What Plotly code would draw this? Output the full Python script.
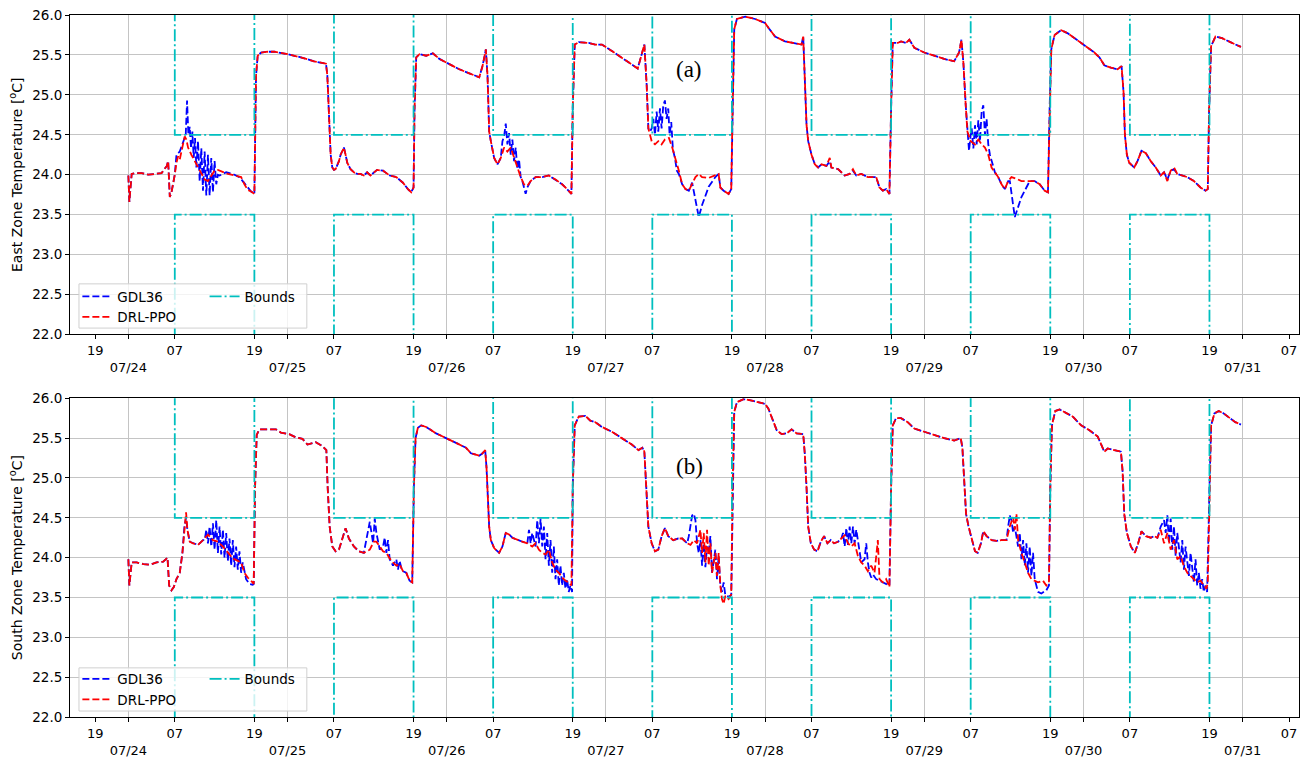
import pandas as pd
import plotly.graph_objects as go

base = pd.Timestamp("2019-07-24 00:00")

# (hours since 07/24 00:00, temperature degC)
east_drlppo = [
    (0.0, 23.99), (0.15, 23.66), (0.5, 24.01), (1.0, 24.02), (2.0, 24.02), (3.0, 24.00), (4.0, 24.01), (5.0, 24.02),
    (5.8, 24.11), (6.0, 24.17), (6.25, 23.72), (6.5, 23.78), (7.0, 24.00), (7.25, 24.15), (7.5, 24.23), (7.75, 24.19),
    (8.0, 24.29), (8.25, 24.38), (8.5, 24.48), (8.75, 24.44), (9.0, 24.34), (9.5, 24.25), (10.0, 24.17), (10.5, 24.09),
    (11.0, 24.01), (11.5, 23.94), (12.0, 23.92), (12.5, 23.99), (13.0, 24.05), (13.5, 24.06), (14.0, 24.04), (15.0, 24.01),
    (16.0, 23.99), (17.0, 23.97), (17.5, 23.88), (18.0, 23.81), (18.5, 23.79), (19.0, 23.76),
    (19.25, 25.24), (19.5, 25.49), (20.0, 25.53), (21.0, 25.54), (22.0, 25.54), (24.0, 25.51), (26.0, 25.47), (28.0, 25.42),
    (29.8, 25.39), (30.0, 25.24), (30.25, 24.75), (30.5, 24.25), (30.75, 24.09), (31.0, 24.06), (31.25, 24.07), (31.5, 24.11),
    (31.75, 24.17), (32.0, 24.25), (32.5, 24.34), (32.75, 24.25), (33.0, 24.15), (33.5, 24.07), (34.0, 24.03), (34.5, 24.01),
    (35.0, 24.01), (35.5, 23.99), (36.0, 24.03), (36.5, 23.99), (37.0, 24.03), (37.5, 24.06), (38.4, 24.05), (39.4, 23.99),
    (40.4, 23.97), (41.4, 23.90), (42.15, 23.82), (42.65, 23.78), (43.0, 23.84),
    (43.15, 24.83), (43.4, 25.47), (43.9, 25.51), (44.9, 25.49), (45.9, 25.52), (46.9, 25.45), (48.4, 25.38), (49.9, 25.32),
    (51.4, 25.27), (52.9, 25.22), (53.4, 25.36), (53.9, 25.57), (54.15, 25.24), (54.4, 24.54), (54.65, 24.42), (55.15, 24.21),
    (55.65, 24.13), (56.15, 24.21), (56.65, 24.34), (57.15, 24.29), (57.65, 24.34), (58.15, 24.21), (58.65, 24.09), (59.15, 23.97),
    (59.65, 23.88), (60.15, 23.86), (60.65, 23.92), (61.4, 23.97), (62.4, 23.97), (63.4, 23.99), (64.4, 23.94), (65.4, 23.88),
    (66.15, 23.82), (66.8, 23.76),
    (67.0, 24.83), (67.3, 25.63), (67.9, 25.66), (69.4, 25.65), (70.4, 25.63), (71.4, 25.63), (72.9, 25.55), (74.4, 25.47),
    (75.9, 25.38), (76.8, 25.33), (77.4, 25.53), (77.8, 25.63), (78.15, 25.12), (78.4, 24.58), (78.9, 24.42), (79.4, 24.38),
    (79.9, 24.42), (80.4, 24.38), (80.9, 24.44), (81.5, 24.46), (82.0, 24.34), (82.5, 24.21), (83.0, 24.05), (83.5, 23.88),
    (84.0, 23.82), (84.5, 23.80), (85.0, 23.88), (85.5, 23.97), (86.0, 24.01), (86.5, 23.97), (87.5, 23.96), (88.5, 23.99),
    (89.0, 24.01), (89.25, 23.84), (89.75, 23.80), (90.5, 23.76), (90.9, 23.82),
    (91.1, 24.83), (91.35, 25.82), (91.75, 25.95), (93.0, 25.98), (94.5, 25.95), (96.0, 25.90), (96.5, 25.84), (97.5, 25.73),
    (99.0, 25.67), (100.5, 25.65), (101.5, 25.63), (101.75, 25.73), (102.0, 25.24), (102.25, 24.62), (102.5, 24.42), (103.0, 24.25),
    (103.5, 24.13), (104.0, 24.09), (104.5, 24.13), (105.25, 24.11), (105.75, 24.21), (106.0, 24.09), (107.0, 24.07), (108.0, 23.99),
    (108.75, 24.01), (109.25, 24.07), (109.75, 23.99), (110.5, 24.01), (111.5, 23.97), (112.75, 23.97), (113.25, 23.84), (113.75, 23.80),
    (114.25, 23.82), (114.75, 23.76),
    (115.0, 24.83), (115.25, 25.65), (116.0, 25.65), (116.5, 25.67), (117.25, 25.65), (117.75, 25.69), (118.5, 25.59), (120.0, 25.53),
    (121.5, 25.49), (123.0, 25.45), (124.5, 25.42), (125.25, 25.53), (125.6, 25.69), (125.9, 25.40), (126.25, 24.87), (126.5, 24.54),
    (127.0, 24.42), (127.65, 24.38), (128.15, 24.44), (128.65, 24.38), (129.15, 24.34), (129.65, 24.25), (130.15, 24.09), (130.65, 24.03),
    (131.15, 23.97), (131.65, 23.88), (132.15, 23.82), (132.65, 23.92), (133.15, 23.97), (133.9, 23.95), (134.65, 23.92), (135.65, 23.92),
    (136.65, 23.92), (137.4, 23.88), (138.15, 23.80), (138.65, 23.78),
    (138.9, 24.83), (139.15, 25.57), (139.65, 25.75), (140.65, 25.81), (141.65, 25.77), (142.65, 25.71), (144.15, 25.61), (145.65, 25.53),
    (146.4, 25.47), (147.15, 25.37), (148.15, 25.34), (149.15, 25.32), (149.75, 25.36), (150.05, 25.03), (150.25, 24.50), (150.55, 24.25),
    (150.9, 24.15), (151.65, 24.09), (152.15, 24.17), (152.75, 24.30), (153.4, 24.27), (154.15, 24.17), (154.9, 24.09), (155.65, 23.99),
    (156.15, 24.03), (156.65, 23.92), (157.15, 24.05), (157.65, 24.09), (158.15, 24.01), (158.9, 23.99), (159.65, 23.97), (160.65, 23.92),
    (161.65, 23.84), (162.4, 23.80), (162.75, 23.82),
    (162.95, 24.83), (163.25, 25.61), (163.9, 25.73), (164.9, 25.71), (166.15, 25.66), (167.75, 25.60),
]

east_gdl36 = [
    (0.0, 23.99), (0.15, 23.66), (0.5, 24.01), (1.0, 24.02), (2.0, 24.02), (3.0, 24.00), (4.0, 24.01), (5.0, 24.02),
    (5.8, 24.11), (6.0, 24.17), (6.25, 23.72), (6.5, 23.78), (7.0, 24.00), (7.25, 24.25), (7.75, 24.29), (8.25, 24.42),
    (8.65, 24.50), (8.85, 24.93), (9.05, 24.50), (9.25, 24.60), (9.45, 24.33), (9.65, 24.54), (9.85, 24.21), (10.05, 24.46),
    (10.25, 24.09), (10.5, 24.42), (10.75, 23.92), (11.0, 24.33), (11.25, 23.80), (11.5, 24.29), (11.75, 23.74), (12.0, 24.25),
    (12.25, 23.74), (12.5, 24.21), (12.75, 23.78), (13.0, 24.17), (13.25, 23.88), (13.5, 24.00), (13.75, 23.99), (14.75, 24.03),
    (15.75, 24.01), (16.75, 23.97), (17.25, 23.92), (18.0, 23.84), (18.5, 23.79), (19.0, 23.76),
    (19.25, 25.24), (19.5, 25.49), (20.0, 25.53), (21.0, 25.54), (22.0, 25.54), (24.0, 25.51), (26.0, 25.47), (28.0, 25.42),
    (29.8, 25.39), (30.0, 25.24), (30.25, 24.75), (30.5, 24.25), (30.75, 24.09), (31.0, 24.06), (31.25, 24.07), (31.5, 24.11),
    (31.75, 24.17), (32.0, 24.25), (32.5, 24.34), (32.75, 24.25), (33.0, 24.15), (33.5, 24.07), (34.0, 24.03), (34.5, 24.01),
    (35.0, 24.01), (35.5, 23.99), (36.0, 24.03), (36.5, 23.99), (37.0, 24.03), (37.5, 24.06), (38.4, 24.05), (39.4, 23.99),
    (40.4, 23.97), (41.4, 23.90), (42.15, 23.82), (42.65, 23.78), (43.0, 23.84),
    (43.15, 24.83), (43.4, 25.47), (43.9, 25.51), (44.9, 25.49), (45.9, 25.52), (46.9, 25.45), (48.4, 25.38), (49.9, 25.32),
    (51.4, 25.27), (52.9, 25.22), (53.4, 25.36), (53.9, 25.57), (54.15, 25.24), (54.4, 24.54), (54.65, 24.42), (55.15, 24.21),
    (55.65, 24.13), (56.15, 24.21), (56.4, 24.42), (56.65, 24.48), (56.9, 24.64), (57.15, 24.38), (57.4, 24.52), (57.65, 24.25),
    (57.9, 24.44), (58.15, 24.17), (58.4, 24.34), (58.65, 24.07), (58.9, 24.19), (59.15, 23.97), (59.4, 23.92), (59.65, 23.82),
    (59.9, 23.76), (60.15, 23.84), (60.65, 23.92), (61.4, 23.97), (62.4, 23.97), (63.4, 23.99), (64.4, 23.94), (65.4, 23.88),
    (66.15, 23.82), (66.8, 23.76),
    (67.0, 24.83), (67.3, 25.63), (67.9, 25.66), (69.4, 25.65), (70.4, 25.63), (71.4, 25.63), (72.9, 25.55), (74.4, 25.47),
    (75.9, 25.38), (76.8, 25.33), (77.4, 25.53), (77.8, 25.63), (78.15, 25.12), (78.4, 24.58), (78.65, 24.54), (78.9, 24.58),
    (79.15, 24.70), (79.4, 24.50), (79.65, 24.79), (79.9, 24.54), (80.15, 24.83), (80.4, 24.58), (80.65, 24.87), (80.9, 24.93),
    (81.15, 24.70), (81.4, 24.83), (81.6, 24.50), (81.85, 24.66), (82.1, 24.32), (82.4, 24.21), (82.7, 24.05), (83.0, 24.01),
    (83.5, 23.88), (84.0, 23.82), (84.5, 23.80), (85.0, 23.90), (86.0, 23.47), (86.5, 23.62), (87.5, 23.85), (88.5, 23.97),
    (89.0, 24.01), (89.25, 23.84), (89.75, 23.80), (90.5, 23.76), (90.9, 23.82),
    (91.1, 24.83), (91.35, 25.82), (91.75, 25.95), (93.0, 25.98), (94.5, 25.95), (96.0, 25.90), (96.5, 25.84), (97.5, 25.73),
    (99.0, 25.67), (100.5, 25.65), (101.5, 25.63), (101.75, 25.73), (102.0, 25.24), (102.25, 24.62), (102.5, 24.42), (103.0, 24.25),
    (103.5, 24.13), (104.0, 24.09), (104.5, 24.13), (105.25, 24.11), (105.75, 24.17), (106.0, 24.09), (107.0, 24.07), (108.0, 23.99),
    (108.75, 24.01), (109.25, 24.05), (109.75, 23.99), (110.5, 24.01), (111.5, 23.97), (112.75, 23.97), (113.25, 23.84), (113.75, 23.80),
    (114.25, 23.82), (114.75, 23.76),
    (115.0, 24.83), (115.25, 25.65), (116.0, 25.65), (116.5, 25.67), (117.25, 25.65), (117.75, 25.69), (118.5, 25.59), (120.0, 25.53),
    (121.5, 25.49), (123.0, 25.45), (124.5, 25.42), (125.25, 25.53), (125.6, 25.69), (125.9, 25.40), (126.25, 24.87), (126.5, 24.54),
    (126.75, 24.30), (127.0, 24.50), (127.15, 24.58), (127.4, 24.33), (127.65, 24.62), (127.9, 24.38), (128.15, 24.68), (128.4, 24.42),
    (128.65, 24.79), (128.9, 24.87), (129.15, 24.50), (129.4, 24.70), (129.65, 24.38), (129.9, 24.25), (130.15, 24.17), (130.65, 24.03),
    (131.15, 23.97), (131.65, 23.88), (132.15, 23.82), (132.65, 23.92), (132.9, 23.92), (133.65, 23.47), (134.65, 23.72), (135.9, 23.92),
    (136.65, 23.92), (137.4, 23.88), (138.15, 23.80), (138.65, 23.78),
    (138.9, 24.83), (139.15, 25.57), (139.65, 25.75), (140.65, 25.81), (141.65, 25.77), (142.65, 25.71), (144.15, 25.61), (145.65, 25.53),
    (146.4, 25.47), (147.15, 25.37), (148.15, 25.34), (149.15, 25.32), (149.75, 25.36), (150.05, 25.03), (150.25, 24.50), (150.55, 24.25),
    (150.9, 24.15), (151.65, 24.09), (152.15, 24.17), (152.75, 24.30), (153.4, 24.27), (154.15, 24.17), (154.9, 24.09), (155.65, 23.99),
    (156.15, 24.03), (156.65, 23.94), (157.15, 24.05), (157.65, 24.07), (158.15, 24.01), (158.9, 23.99), (159.65, 23.97), (160.65, 23.92),
    (161.65, 23.84), (162.4, 23.80), (162.75, 23.82),
    (162.95, 24.83), (163.25, 25.61), (163.9, 25.73), (164.9, 25.71), (166.15, 25.66), (167.75, 25.60),
]

south_drlppo = [
    (0.0, 23.98), (0.15, 23.65), (0.5, 23.94), (1.25, 23.94), (2.25, 23.92), (3.25, 23.91), (4.25, 23.94), (5.25, 23.95),
    (5.9, 24.00), (6.15, 23.65), (6.5, 23.59), (6.85, 23.63), (7.25, 23.73), (7.75, 23.81), (8.15, 24.06), (8.45, 24.39),
    (8.7, 24.57), (8.9, 24.35), (9.25, 24.20), (9.75, 24.18), (10.5, 24.16), (11.25, 24.22), (12.0, 24.29), (12.75, 24.22),
    (13.5, 24.20), (14.25, 24.14), (15.0, 24.06), (15.75, 23.99), (16.5, 23.96), (17.0, 23.94), (17.5, 23.81), (18.0, 23.75),
    (18.5, 23.71), (18.9, 23.67),
    (19.1, 24.88), (19.35, 25.54), (19.75, 25.61), (21.25, 25.61), (22.25, 25.61), (23.0, 25.57), (24.25, 25.55), (25.25, 25.51),
    (26.25, 25.49), (27.0, 25.42), (28.25, 25.45), (29.25, 25.40), (29.85, 25.35), (30.05, 24.88), (30.35, 24.39), (30.75, 24.14),
    (31.25, 24.08), (31.75, 24.10), (32.25, 24.24), (32.75, 24.37), (33.25, 24.24), (34.0, 24.14), (34.75, 24.08), (35.5, 24.06),
    (36.4, 24.10), (37.0, 24.20), (37.4, 24.20), (37.9, 24.14), (38.4, 24.08), (38.9, 24.06), (39.4, 23.99), (39.9, 23.94),
    (40.4, 23.90), (40.9, 23.92), (41.4, 23.83), (41.9, 23.81), (42.4, 23.71), (42.8, 23.69),
    (43.05, 24.88), (43.3, 25.50), (43.65, 25.63), (44.15, 25.66), (44.9, 25.64), (46.4, 25.56), (47.9, 25.50), (49.4, 25.45),
    (50.9, 25.38), (51.65, 25.31), (52.9, 25.28), (53.4, 25.31), (53.8, 25.35), (54.0, 25.13), (54.2, 24.76), (54.4, 24.39),
    (54.65, 24.22), (55.15, 24.12), (55.9, 24.06), (56.4, 24.14), (56.9, 24.31), (57.4, 24.29), (57.9, 24.25), (58.65, 24.22),
    (59.4, 24.20), (60.15, 24.18), (60.9, 24.14), (61.4, 24.18), (61.9, 24.10), (62.4, 24.06), (62.9, 24.04), (63.4, 24.10),
    (63.9, 23.94), (64.4, 23.85), (64.9, 23.81), (65.4, 23.75), (65.9, 23.71), (66.4, 23.69), (66.8, 23.65),
    (67.0, 24.88), (67.3, 25.66), (67.9, 25.77), (68.9, 25.78), (69.65, 25.72), (70.4, 25.70), (71.4, 25.64), (72.9, 25.58),
    (74.4, 25.50), (75.9, 25.42), (76.9, 25.35), (77.5, 25.38), (77.8, 25.33), (78.05, 24.88), (78.4, 24.39), (78.9, 24.18),
    (79.4, 24.08), (79.9, 24.10), (80.4, 24.27), (80.9, 24.37), (81.4, 24.27), (82.15, 24.22), (82.9, 24.24), (83.5, 24.24),
    (84.25, 24.18), (84.75, 24.16), (85.25, 24.22), (85.75, 24.18), (86.25, 24.35), (86.5, 24.06), (86.75, 24.31), (87.0, 23.94),
    (87.25, 24.35), (87.5, 23.90), (87.75, 24.18), (88.0, 23.81), (88.5, 24.06), (88.75, 23.77), (89.0, 24.06), (89.25, 23.65),
    (89.5, 23.48), (89.75, 23.42), (90.0, 23.52), (90.5, 23.48), (90.9, 23.54),
    (91.1, 24.88), (91.35, 25.83), (91.75, 25.95), (92.75, 25.99), (94.0, 25.97), (95.0, 25.95), (96.0, 25.93), (96.5, 25.87),
    (97.25, 25.72), (97.75, 25.60), (98.5, 25.55), (99.25, 25.56), (100.0, 25.61), (100.75, 25.56), (101.75, 25.55), (102.0, 25.29),
    (102.25, 24.88), (102.5, 24.39), (102.9, 24.18), (103.4, 24.10), (103.9, 24.08), (104.4, 24.20), (104.9, 24.27), (105.4, 24.18),
    (105.9, 24.22), (106.4, 24.18), (107.0, 24.20), (107.5, 24.24), (108.0, 24.28), (108.5, 24.18), (109.0, 24.14), (109.5, 24.18),
    (110.0, 24.02), (110.5, 23.94), (111.0, 23.90), (111.5, 23.83), (112.0, 23.90), (112.5, 23.81), (113.0, 24.22), (113.25, 23.73),
    (113.75, 23.69), (114.25, 23.73), (114.75, 23.63),
    (115.0, 24.88), (115.25, 25.66), (115.75, 25.75), (116.5, 25.75), (117.5, 25.70), (118.5, 25.62), (120.0, 25.58), (121.5, 25.54),
    (123.0, 25.50), (124.5, 25.47), (125.5, 25.50), (125.75, 25.38), (126.0, 24.96), (126.3, 24.55), (126.65, 24.40), (127.15, 24.22),
    (127.65, 24.08), (128.05, 24.06), (128.55, 24.18), (128.9, 24.33), (129.4, 24.27), (130.15, 24.22), (130.9, 24.21), (131.65, 24.22),
    (132.4, 24.22), (132.9, 24.39), (133.4, 24.51), (133.65, 24.35), (133.9, 24.55), (134.15, 24.22), (134.65, 24.06), (135.15, 23.94),
    (135.65, 23.81), (136.15, 23.73), (136.65, 23.71), (137.15, 23.69), (137.9, 23.71), (138.4, 23.65), (138.8, 23.69),
    (139.0, 24.88), (139.25, 25.66), (139.75, 25.84), (140.4, 25.86), (141.4, 25.81), (142.4, 25.77), (143.65, 25.66), (144.9, 25.60),
    (146.15, 25.52), (146.65, 25.42), (147.15, 25.33), (147.65, 25.37), (148.65, 25.35), (149.65, 25.33), (149.9, 25.09), (150.15, 24.55),
    (150.55, 24.31), (151.15, 24.14), (151.75, 24.06), (152.25, 24.18), (152.75, 24.33), (153.4, 24.27), (154.15, 24.25), (154.65, 24.27),
    (155.15, 24.25), (155.65, 24.35), (156.15, 24.18), (156.65, 24.31), (157.15, 24.10), (157.65, 24.22), (158.15, 23.98), (158.65, 24.02),
    (159.15, 23.89), (159.65, 23.81), (160.15, 23.77), (160.65, 23.73), (161.15, 23.69), (161.65, 23.71), (162.15, 23.65), (162.55, 23.61),
    (162.75, 23.69),
    (163.0, 24.88), (163.25, 25.66), (163.75, 25.81), (164.4, 25.84), (165.15, 25.81), (166.15, 25.75), (166.9, 25.70), (167.75, 25.67),
]

south_gdl36 = [
    (0.0, 23.98), (0.15, 23.65), (0.5, 23.94), (1.25, 23.94), (2.25, 23.92), (3.25, 23.91), (4.25, 23.94), (5.25, 23.95),
    (5.9, 24.00), (6.15, 23.65), (6.5, 23.59), (6.85, 23.63), (7.25, 23.73), (7.75, 23.81), (8.15, 24.06), (8.45, 24.39),
    (8.7, 24.50), (8.9, 24.35), (9.25, 24.20), (9.75, 24.18), (10.5, 24.16), (11.25, 24.22), (11.5, 24.22), (11.75, 24.35),
    (12.0, 24.18), (12.25, 24.39), (12.5, 24.14), (12.75, 24.43), (13.0, 24.10), (13.25, 24.47), (13.5, 24.06), (13.75, 24.39),
    (14.0, 24.04), (14.25, 24.35), (14.5, 24.00), (14.75, 24.31), (15.0, 23.96), (15.25, 24.24), (15.5, 23.90), (15.75, 24.22),
    (16.0, 23.88), (16.25, 24.14), (16.5, 23.85), (16.75, 24.08), (17.0, 23.81), (17.25, 23.94), (17.75, 23.73), (18.25, 23.67),
    (18.75, 23.66), (18.9, 23.67),
    (19.1, 24.88), (19.35, 25.54), (19.75, 25.61), (21.25, 25.61), (22.25, 25.61), (23.0, 25.57), (24.25, 25.55), (25.25, 25.51),
    (26.25, 25.49), (27.0, 25.42), (28.25, 25.45), (29.25, 25.40), (29.85, 25.35), (30.05, 24.88), (30.35, 24.39), (30.75, 24.14),
    (31.25, 24.08), (31.75, 24.10), (32.25, 24.24), (32.75, 24.37), (33.25, 24.24), (34.0, 24.14), (34.75, 24.08), (35.5, 24.06),
    (36.4, 24.45), (36.9, 24.18), (37.15, 24.49), (37.4, 24.31), (37.9, 24.10), (38.4, 24.14), (38.65, 24.25), (38.9, 24.06),
    (39.15, 24.22), (39.4, 23.98), (39.9, 23.90), (40.4, 23.98), (40.65, 23.85), (40.9, 23.96), (41.15, 23.87), (41.4, 23.83),
    (41.9, 23.81), (42.4, 23.71), (42.8, 23.69),
    (43.05, 24.88), (43.3, 25.50), (43.65, 25.63), (44.15, 25.66), (44.9, 25.64), (46.4, 25.56), (47.9, 25.50), (49.4, 25.45),
    (50.9, 25.38), (51.65, 25.31), (52.9, 25.28), (53.4, 25.31), (53.8, 25.35), (54.0, 25.13), (54.2, 24.76), (54.4, 24.39),
    (54.65, 24.22), (55.15, 24.12), (55.9, 24.06), (56.4, 24.14), (56.9, 24.31), (57.4, 24.29), (57.9, 24.25), (58.65, 24.22),
    (59.4, 24.20), (60.15, 24.18), (60.4, 24.35), (60.65, 24.18), (60.9, 24.31), (61.4, 24.14), (61.65, 24.47), (61.9, 24.18),
    (62.15, 24.49), (62.4, 24.14), (62.65, 24.39), (62.9, 23.98), (63.15, 24.31), (63.4, 23.90), (63.65, 24.22), (63.9, 23.81),
    (64.15, 24.14), (64.4, 23.73), (64.65, 23.98), (64.9, 23.65), (65.15, 23.90), (65.4, 23.65), (65.65, 23.81), (65.9, 23.61),
    (66.15, 23.73), (66.4, 23.57), (66.65, 23.65), (66.9, 23.57),
    (67.0, 24.88), (67.3, 25.66), (67.9, 25.77), (68.9, 25.78), (69.65, 25.72), (70.4, 25.70), (71.4, 25.64), (72.9, 25.58),
    (74.4, 25.50), (75.9, 25.42), (76.9, 25.35), (77.5, 25.38), (77.8, 25.33), (78.05, 24.88), (78.4, 24.39), (78.9, 24.18),
    (79.4, 24.08), (79.9, 24.10), (80.4, 24.27), (80.9, 24.37), (81.4, 24.27), (82.15, 24.22), (82.9, 24.24), (83.5, 24.24),
    (84.25, 24.18), (84.5, 24.27), (85.0, 24.53), (85.25, 24.55), (85.5, 24.47), (85.75, 24.18), (86.0, 24.06), (86.25, 24.22),
    (86.5, 23.90), (86.75, 24.18), (87.0, 23.88), (87.25, 24.14), (87.5, 24.06), (87.75, 24.27), (88.0, 23.81), (88.5, 24.10),
    (88.75, 23.73), (89.0, 24.02), (89.25, 23.65), (89.5, 23.57), (89.75, 23.69), (90.0, 23.53), (90.5, 23.51), (90.9, 23.53),
    (91.1, 24.88), (91.35, 25.83), (91.75, 25.95), (92.75, 25.99), (94.0, 25.97), (95.0, 25.95), (96.0, 25.93), (96.5, 25.87),
    (97.25, 25.72), (97.75, 25.60), (98.5, 25.55), (99.25, 25.56), (100.0, 25.61), (100.75, 25.56), (101.75, 25.55), (102.0, 25.29),
    (102.25, 24.88), (102.5, 24.39), (102.9, 24.18), (103.4, 24.10), (103.9, 24.08), (104.4, 24.20), (104.9, 24.27), (105.4, 24.18),
    (105.9, 24.22), (106.4, 24.18), (107.0, 24.20), (107.5, 24.24), (107.75, 24.31), (108.0, 24.14), (108.25, 24.37), (108.5, 24.16),
    (108.75, 24.39), (109.0, 24.18), (109.25, 24.39), (109.5, 24.18), (109.75, 24.35), (110.25, 24.06), (110.5, 23.94), (111.0, 23.98),
    (111.25, 24.18), (111.5, 23.94), (111.75, 23.81), (112.0, 23.75), (112.25, 23.79), (112.75, 23.73), (113.25, 23.71), (113.75, 23.69),
    (114.25, 23.67), (114.75, 23.65),
    (115.0, 24.88), (115.25, 25.66), (115.75, 25.75), (116.5, 25.75), (117.5, 25.70), (118.5, 25.62), (120.0, 25.58), (121.5, 25.54),
    (123.0, 25.50), (124.5, 25.47), (125.5, 25.50), (125.75, 25.38), (126.0, 24.96), (126.3, 24.55), (126.65, 24.40), (127.15, 24.22),
    (127.65, 24.08), (128.05, 24.06), (128.55, 24.18), (128.9, 24.33), (129.4, 24.27), (130.15, 24.22), (130.9, 24.21), (131.65, 24.22),
    (132.4, 24.22), (132.65, 24.39), (132.9, 24.53), (133.15, 24.47), (133.4, 24.31), (133.65, 24.39), (134.15, 24.14), (134.4, 24.31),
    (134.65, 23.98), (134.9, 24.22), (135.15, 23.90), (135.4, 24.18), (135.65, 23.81), (135.9, 24.14), (136.15, 23.77), (136.4, 24.06),
    (136.65, 23.73), (136.9, 23.65), (137.15, 23.57), (137.65, 23.55), (138.4, 23.59), (138.8, 23.65),
    (139.0, 24.88), (139.25, 25.66), (139.75, 25.84), (140.4, 25.86), (141.4, 25.81), (142.4, 25.77), (143.65, 25.66), (144.9, 25.60),
    (146.15, 25.52), (146.65, 25.42), (147.15, 25.33), (147.65, 25.37), (148.65, 25.35), (149.65, 25.33), (149.9, 25.09), (150.15, 24.55),
    (150.55, 24.31), (151.15, 24.14), (151.75, 24.06), (152.25, 24.18), (152.75, 24.33), (153.4, 24.27), (154.15, 24.25), (154.65, 24.27),
    (155.15, 24.25), (155.65, 24.39), (156.15, 24.47), (156.4, 24.31), (156.65, 24.53), (156.9, 24.18), (157.15, 24.49), (157.4, 24.10),
    (157.65, 24.39), (157.9, 24.02), (158.15, 24.31), (158.65, 23.94), (158.9, 24.22), (159.15, 23.85), (159.4, 24.14), (159.9, 23.77),
    (160.15, 24.06), (160.65, 23.69), (160.9, 23.98), (161.15, 23.65), (161.4, 23.81), (161.65, 23.61), (161.9, 23.73), (162.15, 23.57),
    (162.4, 23.65), (162.65, 23.57),
    (163.0, 24.88), (163.25, 25.66), (163.75, 25.81), (164.4, 25.84), (165.15, 25.81), (166.15, 25.75), (166.9, 25.70), (167.75, 25.67),
]

# comfort bounds (occupied 07:00-19:00)
occ_start_h = [7, 31, 55, 79, 103, 127, 151]
occ_end_h = [19, 43, 67, 91, 115, 139, 163]
bounds_end_h = 168
upper_occ, upper_unocc = 24.5, 30.0
lower_occ, lower_unocc = 23.5, 15.0

day_labels = ["07/24", "07/25", "07/26", "07/27", "07/28", "07/29", "07/30", "07/31"]
y_titles = ["East Zone Temperature [<sup>o</sup>C]", "South Zone Temperature [<sup>o</sup>C]"]
panel_tags = ["(a)", "(b)"]

BLUE, RED, CYAN = "#0000ff", "#ff0000", "#00bfbf"
FONT = "DejaVu Sans"
LW = 1.8


def tx(hours):
    return [base + pd.Timedelta(hours=h) for h in hours]


def split(pairs):
    return tx([p[0] for p in pairs]), [p[1] for p in pairs]


bt = [0.0]
bu = [upper_unocc]
bl = [lower_unocc]
for s, e in zip(occ_start_h, occ_end_h):
    bt += [s, e]
    bu += [upper_occ, upper_unocc]
    bl += [lower_occ, lower_unocc]
bt.append(bounds_end_h)
bu.append(upper_unocc)
bl.append(lower_unocc)

fig = go.Figure()
zones = [(east_gdl36, east_drlppo), (south_gdl36, south_drlppo)]
for i, (gdl, ppo) in enumerate(zones):
    xa = "x" if i == 0 else "x2"
    ya = "y" if i == 0 else "y2"
    lg_a = "legend" if i == 0 else "legend3"
    lg_b = "legend2" if i == 0 else "legend4"
    gx, gy = split(gdl)
    px_, py_ = split(ppo)
    fig.add_trace(go.Scatter(x=gx, y=gy, mode="lines", name="GDL36", xaxis=xa, yaxis=ya, legend=lg_a,
                             line=dict(color=BLUE, width=LW, dash="7px,3px")))
    fig.add_trace(go.Scatter(x=px_, y=py_, mode="lines", name="DRL-PPO", xaxis=xa, yaxis=ya, legend=lg_a,
                             line=dict(color=RED, width=LW, dash="7px,3px")))
    fig.add_trace(go.Scatter(x=tx(bt), y=bu, mode="lines", name="Bounds", xaxis=xa, yaxis=ya, legend=lg_b,
                             line=dict(color=CYAN, width=LW, dash="12px,3px,2px,3px", shape="hv"),
                             legendgroup=f"b{i}"))
    fig.add_trace(go.Scatter(x=tx(bt), y=bl, mode="lines", name="Bounds", xaxis=xa, yaxis=ya, legend=lg_b,
                             line=dict(color=CYAN, width=LW, dash="12px,3px,2px,3px", shape="hv"),
                             legendgroup=f"b{i}", showlegend=False))

# ticks
tickvals = [base + pd.Timedelta(hours=-5)]
ticktext = ["19"]
for d, lab in enumerate(day_labels):
    for hh, txt in [(0, None), (7, "07"), (19, "19")]:
        h = d * 24 + hh
        if h > 176:
            continue
        tickvals.append(base + pd.Timedelta(hours=h))
        ticktext.append("<br>" + lab if txt is None else txt)

xrange_ = [base + pd.Timedelta(hours=-8.8), base + pd.Timedelta(hours=176.5)]
GRID = "#c4c4c4"
xcommon = dict(range=xrange_, tickmode="array", tickvals=tickvals, ticktext=ticktext, showgrid=False,
               ticks="outside", ticklen=4, tickcolor="black", showline=True, mirror=True, linecolor="black",
               linewidth=1, zeroline=False, tickfont=dict(family=FONT, size=13, color="black"),
               minor=dict(dtick=86400000, tick0="2019-07-24", showgrid=True, gridcolor=GRID, gridwidth=1, ticks=""))
ycommon = dict(range=[22, 26], dtick=0.5, tick0=22, tickformat=".1f", showgrid=True, gridcolor=GRID, gridwidth=1,
               ticks="outside", ticklen=4, tickcolor="black", showline=True, mirror=True, linecolor="black",
               linewidth=1, zeroline=False, tickfont=dict(family=FONT, size=13.5, color="black"))

fig.update_layout(
    width=1307, height=765, margin=dict(l=70, r=7, t=10, b=42),
    plot_bgcolor="white", paper_bgcolor="white",
    xaxis=dict(**xcommon, anchor="y", domain=[0, 1]),
    xaxis2=dict(**xcommon, anchor="y2", domain=[0, 1]),
    yaxis=dict(**ycommon, domain=[0.545, 1], anchor="x",
               title=dict(text=y_titles[0], font=dict(family=FONT, size=14, color="black"), standoff=6)),
    yaxis2=dict(**ycommon, domain=[0, 0.454], anchor="x2",
                title=dict(text=y_titles[1], font=dict(family=FONT, size=14, color="black"), standoff=6)),
    font=dict(family=FONT, size=13, color="black"),
)

lfont = dict(family=FONT, size=13.5, color="black")
leg_common = dict(xanchor="left", yanchor="top", bgcolor="rgba(0,0,0,0)", borderwidth=0, font=lfont,
                  tracegroupgap=0, itemwidth=30)
fig.update_layout(
    legend=dict(x=0.006, y=0.621, **leg_common),
    legend2=dict(x=0.1095, y=0.621, **leg_common),
    legend3=dict(x=0.006, y=0.076, **leg_common),
    legend4=dict(x=0.1095, y=0.076, **leg_common),
)

# legend frames
for y0, y1 in [(0.554, 0.617), (0.0085, 0.070)]:
    fig.add_shape(type="rect", xref="paper", yref="paper", x0=0.0073, x1=0.1927, y0=y0, y1=y1,
                  line=dict(color="#d0d0d0", width=1), fillcolor="rgba(255,255,255,0.8)", layer="above")

# panel tags
tag_x = base + pd.Timedelta(hours=84.6)
fig.add_annotation(x=tag_x, y=25.32, xref="x", yref="y", text=panel_tags[0], showarrow=False,
                   font=dict(family="Liberation Serif", size=23, color="black"))
fig.add_annotation(x=tag_x, y=25.15, xref="x2", yref="y2", text=panel_tags[1], showarrow=False,
                   font=dict(family="Liberation Serif", size=23, color="black"))

fig.write_html("out.html")
